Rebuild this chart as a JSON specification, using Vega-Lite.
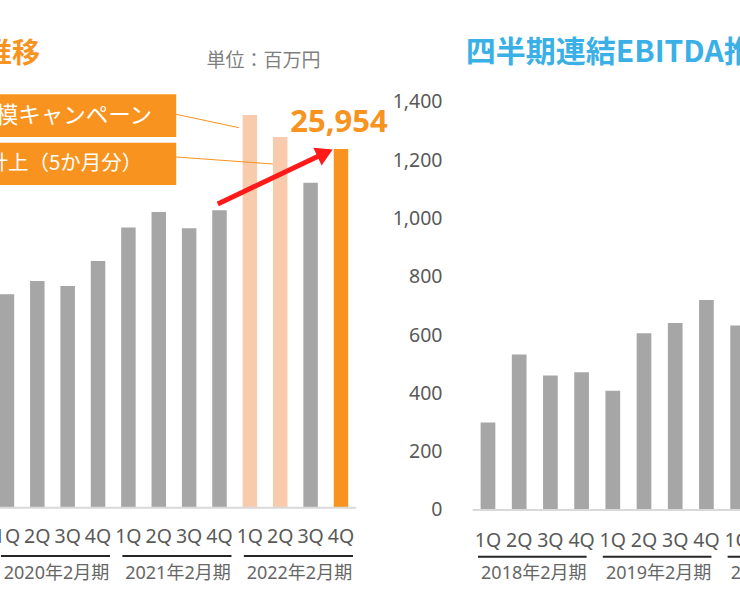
{
  "$schema": "https://vega.github.io/schema/vega-lite/v6.json",
  "padding": 0,
  "background": "white",
  "spacing": 63,
  "bounds": "flush",
  "config": {"view": {"stroke": null}, "font": "Noto Sans, Noto Sans CJK JP"},
  "datasets": {
    "sales": [
      {"period": "2020年2月期", "q": "1Q", "n": 0, "value": 15450, "kind": "通常"},
      {"period": "2020年2月期", "q": "2Q", "n": 1, "value": 16410, "kind": "通常"},
      {"period": "2020年2月期", "q": "3Q", "n": 2, "value": 16050, "kind": "通常"},
      {"period": "2020年2月期", "q": "4Q", "n": 3, "value": 17860, "kind": "通常"},
      {"period": "2021年2月期", "q": "1Q", "n": 4, "value": 20270, "kind": "通常"},
      {"period": "2021年2月期", "q": "2Q", "n": 5, "value": 21400, "kind": "通常"},
      {"period": "2021年2月期", "q": "3Q", "n": 6, "value": 20220, "kind": "通常"},
      {"period": "2021年2月期", "q": "4Q", "n": 7, "value": 21520, "kind": "通常"},
      {"period": "2022年2月期", "q": "1Q", "n": 8, "value": 28410, "kind": "キャンペーン"},
      {"period": "2022年2月期", "q": "2Q", "n": 9, "value": 26820, "kind": "キャンペーン"},
      {"period": "2022年2月期", "q": "3Q", "n": 10, "value": 23520, "kind": "通常"},
      {"period": "2022年2月期", "q": "4Q", "n": 11, "value": 25954, "kind": "最新"}
    ],
    "ebitda": [
      {"period": "2018年2月期", "q": "1Q", "n": 0, "value": 300},
      {"period": "2018年2月期", "q": "2Q", "n": 1, "value": 533},
      {"period": "2018年2月期", "q": "3Q", "n": 2, "value": 461},
      {"period": "2018年2月期", "q": "4Q", "n": 3, "value": 472},
      {"period": "2019年2月期", "q": "1Q", "n": 4, "value": 409},
      {"period": "2019年2月期", "q": "2Q", "n": 5, "value": 606},
      {"period": "2019年2月期", "q": "3Q", "n": 6, "value": 641},
      {"period": "2019年2月期", "q": "4Q", "n": 7, "value": 720},
      {"period": "2020年2月期", "q": "1Q", "n": 8, "value": 633},
      {"period": "2020年2月期", "q": "2Q", "n": 9, "value": null},
      {"period": "2020年2月期", "q": "3Q", "n": 10, "value": null},
      {"period": "2020年2月期", "q": "4Q", "n": 11, "value": null}
    ]
  },
  "hconcat": [
    {
      "width": 392,
      "height": 600,
      "data": {"name": "sales"},
      "layer": [
        {
          "mark": {"type": "bar", "width": 14.5, "clip": true},
          "encoding": {
            "x": {"field": "n", "type": "quantitative", "scale": {"domain": [-0.064, 12.516], "nice": false, "zero": false}, "axis": null},
            "y": {"field": "value", "type": "quantitative", "scale": {"domain": [-6679, 36737], "nice": false, "zero": false}, "axis": null},
            "color": {"field": "kind", "type": "nominal", "scale": {"domain": ["通常", "キャンペーン", "最新"], "range": ["#A6A6A6", "#F8CBAD", "#F7931E"]}, "legend": null}
          }
        },
        {
          "data": {"values": [{}]},
          "mark": {"type": "rule", "color": "#D9D9D9", "strokeWidth": 2, "clip": true},
          "encoding": {"x": {"datum": -1}, "x2": {"datum": 11.49}, "y": {"datum": 0}}
        },
        {
          "mark": {"type": "text", "clip": true, "fontSize": 19.5, "color": "#595959", "baseline": "middle"},
          "encoding": {"x": {"field": "n", "type": "quantitative"}, "y": {"datum": -2156}, "text": {"field": "q"}}
        },
        {
          "transform": [{"aggregate": [{"op": "min", "field": "n", "as": "first"}, {"op": "max", "field": "n", "as": "last"}], "groupby": ["period"]}],
          "mark": {"type": "rule", "color": "#262626", "strokeWidth": 2, "xOffset": -6, "x2Offset": 12, "clip": true},
          "encoding": {"x": {"field": "first", "type": "quantitative"}, "x2": {"field": "last"}, "y": {"datum": -3494}}
        },
        {
          "transform": [{"aggregate": [{"op": "mean", "field": "n", "as": "mid"}], "groupby": ["period"]}],
          "mark": {"type": "text", "clip": true, "fontSize": 18, "color": "#666666", "baseline": "middle", "dx": 4},
          "encoding": {"x": {"field": "mid", "type": "quantitative"}, "y": {"datum": -4812}, "text": {"field": "period"}}
        },
        {
          "data": {"values": [{"t": "四半期連結売上高推移"}]},
          "mark": {"type": "text", "align": "right", "baseline": "middle", "fontSize": 28, "fontWeight": "bold", "color": "#F7931E", "font": "Noto Sans CJK JP", "clip": true},
          "encoding": {"x": {"datum": 1.091}, "y": {"datum": 32757}, "text": {"field": "t"}}
        },
        {
          "data": {"values": [{"t": "単位：百万円"}]},
          "mark": {"type": "text", "align": "right", "baseline": "middle", "fontSize": 19, "color": "#7F7F7F", "font": "Noto Sans CJK JP", "clip": true},
          "encoding": {"x": {"datum": 10.33}, "y": {"datum": 32322}, "text": {"field": "t"}}
        },
        {
          "data": {"values": [{}]},
          "mark": {"type": "rect", "color": "#F7931E", "clip": true},
          "encoding": {"x": {"datum": -1}, "x2": {"datum": 5.575}, "y": {"datum": 29914}, "y2": {"datum": 26827}}
        },
        {
          "data": {"values": [{}]},
          "mark": {"type": "rect", "color": "#F7931E", "clip": true},
          "encoding": {"x": {"datum": -1}, "x2": {"datum": 5.575}, "y": {"datum": 26411}, "y2": {"datum": 23352}}
        },
        {
          "data": {"values": [{"t": "大規模キャンペーン"}]},
          "mark": {"type": "text", "align": "right", "baseline": "middle", "fontSize": 22.5, "color": "white", "font": "Noto Sans CJK JP", "clip": true},
          "encoding": {"x": {"datum": 4.78}, "y": {"datum": 28343}, "text": {"field": "t"}}
        },
        {
          "data": {"values": [{"t": "売上計上（5か月分）"}]},
          "mark": {"type": "text", "align": "right", "baseline": "middle", "fontSize": 20.5, "color": "white", "font": "Noto Sans CJK JP", "clip": true},
          "encoding": {"x": {"datum": 4.46}, "y": {"datum": 24906}, "text": {"field": "t"}}
        },
        {
          "data": {"values": [{}]},
          "mark": {"type": "rule", "color": "#F7931E", "strokeWidth": 1, "clip": true},
          "encoding": {"x": {"datum": 5.575}, "x2": {"datum": 7.638}, "y": {"datum": 28466}, "y2": {"datum": 27497}}
        },
        {
          "data": {"values": [{}]},
          "mark": {"type": "rule", "color": "#F7931E", "strokeWidth": 1, "clip": true},
          "encoding": {"x": {"datum": 5.575}, "x2": {"datum": 8.761}, "y": {"datum": 25377}, "y2": {"datum": 24870}}
        },
        {
          "data": {"values": [{}]},
          "mark": {"type": "rule", "color": "#FF1A1A", "strokeWidth": 5, "clip": true},
          "encoding": {"x": {"datum": 6.942}, "x2": {"datum": 10.39}, "y": {"datum": 21976}, "y2": {"datum": 25572}}
        },
        {
          "data": {"values": [{}]},
          "mark": {"type": "point", "shape": "triangle-right", "filled": true, "opacity": 1, "size": 380, "angle": 335, "color": "#FF1A1A", "clip": true},
          "encoding": {"x": {"datum": 10.478}, "y": {"datum": 25659}}
        },
        {
          "transform": [{"filter": "datum.kind === '最新'"}],
          "mark": {"type": "text", "dx": -2, "dy": -17, "baseline": "alphabetic", "fontSize": 31, "fontWeight": "bold", "color": "#F7931E", "clip": true},
          "encoding": {"x": {"field": "n", "type": "quantitative"}, "y": {"field": "value", "type": "quantitative"}, "text": {"field": "value", "type": "quantitative", "format": ",d"}}
        }
      ]
    },
    {
      "width": 285,
      "height": 600,
      "data": {"name": "ebitda"},
      "layer": [
        {
          "mark": {"type": "bar", "width": 14.7, "color": "#A6A6A6", "clip": true},
          "encoding": {
            "x": {"field": "n", "type": "quantitative", "scale": {"domain": [-0.897, 7.916], "nice": false, "zero": false}, "axis": null},
            "y": {"field": "value", "type": "quantitative", "scale": {"domain": [-308.6, 1748.7], "nice": false, "zero": false},
              "axis": {"values": [0, 200, 400, 600, 800, 1000, 1200, 1400], "format": ",d", "grid": false, "domain": false, "ticks": false, "labelPadding": 13, "labelFontSize": 19.5, "labelColor": "#595959", "labelFont": "Noto Sans", "title": null}}
          }
        },
        {
          "data": {"values": [{}]},
          "mark": {"type": "rule", "color": "#D9D9D9", "strokeWidth": 2, "clip": true},
          "encoding": {"x": {"datum": -0.49}, "x2": {"datum": 8.6}, "y": {"datum": 0}}
        },
        {
          "mark": {"type": "text", "clip": true, "fontSize": 19.5, "color": "#595959", "baseline": "middle"},
          "encoding": {"x": {"field": "n", "type": "quantitative"}, "y": {"datum": -104.6}, "text": {"field": "q"}}
        },
        {
          "transform": [{"aggregate": [{"op": "min", "field": "n", "as": "first"}, {"op": "max", "field": "n", "as": "last"}], "groupby": ["period"]}],
          "mark": {"type": "rule", "color": "#262626", "strokeWidth": 2, "xOffset": -10, "x2Offset": 5, "clip": true},
          "encoding": {"x": {"field": "first", "type": "quantitative"}, "x2": {"field": "last"}, "y": {"datum": -160}}
        },
        {
          "transform": [{"aggregate": [{"op": "mean", "field": "n", "as": "mid"}], "groupby": ["period"]}],
          "mark": {"type": "text", "clip": true, "fontSize": 18, "color": "#666666", "baseline": "middle", "dx": -1},
          "encoding": {"x": {"field": "mid", "type": "quantitative"}, "y": {"datum": -220.5}, "text": {"field": "period"}}
        },
        {
          "data": {"values": [{"t": "四半期連結EBITDA推移"}]},
          "mark": {"type": "text", "align": "left", "baseline": "middle", "fontSize": 30, "fontWeight": "bold", "color": "#3AB0E6", "font": "Noto Sans CJK JP", "clip": true},
          "encoding": {"x": {"datum": -0.71}, "y": {"datum": 1567}, "text": {"field": "t"}}
        }
      ]
    }
  ]
}
